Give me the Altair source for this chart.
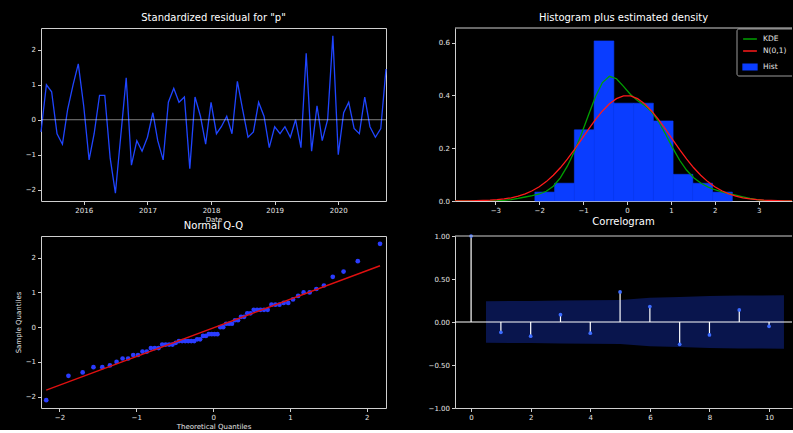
import statistics

import altair as alt
import numpy as np
import pandas as pd

# ---- data -------------------------------------------------------------
resid_start = "2015-05-01"  # first month of the monthly residual series
resid_values = [
    -0.35, 1.0, 0.8, -0.4, -0.7, 0.3, 1.0, 1.6, 0.4, -1.15,
    -0.4, 0.7, 0.7, -1.1, -2.1, -0.45, 1.2, -1.3, -0.6, -0.9,
    -0.5, 0.2, -0.6, -1.15, 0.5, 0.9, 0.5, 0.65, -1.4, 0.65,
    0.1, -0.7, 0.5, -0.4, -0.2, 0.1, -0.4, 1.1, 0.3, -0.5,
    -0.35, 0.5, 0.1, -0.8, -0.2, -0.4, -0.2, -0.5, 0.0, -0.8,
    1.9, -0.9, 0.4, -0.6, 0.0, 2.4, -1.0, 0.2, 0.5, -0.25,
    -0.4, 0.65, -0.2, -0.5, -0.25, 1.45,
]

acf_lags = list(range(11))
acf_values = [1.0, -0.12, -0.165, 0.085, -0.13, 0.35, 0.18, -0.26, -0.15, 0.14, -0.05]

curve_names = ["KDE", "N(0,1)"]
curve_colors = ["#00a000", "#ff1a1a"]
hist_name = "Hist"
hist_color = "#0a3dff"

resid_ticks = [-2, -1, 0, 1, 2]
hist_xticks = [-3, -2, -1, 0, 1, 2, 3]
hist_yticks = [0.0, 0.1, 0.2, 0.3, 0.4, 0.5, 0.6]
acf_xticks = [0, 2, 4, 6, 8, 10]
acf_yticks = [-1.0, -0.75, -0.5, -0.25, 0.0, 0.25, 0.5, 0.75, 1.0]

# ---- styling ----------------------------------------------------------
FONT = "DejaVu Sans"
FG = "#e4e4e4"
FRAME = "#cfcfcf"
BLUE = "#1f45ff"
W_L, W_R, H_T, H_B = 345, 337, 173, 172
MINUS = "replace(datum.label, '-', '\u2212')"


def ax(values, fmt, **kw):
    return alt.Axis(values=values, format=fmt, labelExpr=MINUS, grid=False, **kw)


def framed_ax(values, fmt, **kw):
    return ax(values, fmt, domain=True, domainColor=FRAME, domainWidth=1, **kw)


def legend_box(y, symbol):
    return alt.Legend(
        orient="none", legendX=287, legendY=y, direction="vertical", padding=0,
        labelFont=FONT, labelFontSize=7.5, labelColor=FG, labelOffset=5,
        symbolSize=190, symbolStrokeWidth=1.5, rowPadding=0, symbolType=symbol,
    )


resid = np.array(resid_values, dtype=float)
n = len(resid)
dates = pd.date_range(resid_start, periods=n, freq="MS")
span = resid.max() - resid.min()
y_lim = [resid.min() - 0.05 * span, resid.max() + 0.05 * span]

# ---- standardized residuals over time -------------------------------
resid_df = pd.DataFrame({"date": dates, "resid": resid})
x_dom = [alt.DateTime(year=int(d.year), month=int(d.month), date=int(d.day)) for d in (dates[0], dates[-1])]
resid_line = alt.Chart(resid_df).mark_line(color=BLUE, strokeWidth=1.3).encode(
    x=alt.X(
        "date:T", title="Date",
        scale=alt.Scale(domain=x_dom, nice=False),
        axis=alt.Axis(format="%Y", tickCount=alt.TimeIntervalStep(interval="year", step=1),
                      grid=False, titlePadding=2),
    ),
    y=alt.Y("resid:Q", title=None, scale=alt.Scale(domain=y_lim, nice=False, zero=False),
            axis=ax(resid_ticks, "d")),
)
resid_zero = alt.Chart(pd.DataFrame({"v": [0]})).mark_rule(color="white", opacity=0.5).encode(
    y=alt.datum(0.0)
)
panel_resid = alt.layer(resid_line, resid_zero).properties(
    width=W_L, height=H_T, title='Standardized residual for "p"'
)

# ---- histogram with KDE and N(0,1) -----------------------------------
counts, edges = np.histogram(resid, bins=10, density=True)
hist_df = pd.DataFrame({"left": edges[:-1], "right": edges[1:], "density": counts, "series": hist_name})
grid_x = np.linspace(-3.92, 3.92, 50)
bw = resid.std(ddof=1) * n ** (-1 / 5)
kde_y = np.exp(-0.5 * ((grid_x[:, None] - resid[None, :]) / bw) ** 2).sum(axis=1) / (n * bw * np.sqrt(2 * np.pi))
norm_y = np.exp(-0.5 * grid_x ** 2) / np.sqrt(2 * np.pi)
curves_df = pd.concat([
    pd.DataFrame({"x": grid_x, "y": kde_y, "series": curve_names[0]}),
    pd.DataFrame({"x": grid_x, "y": norm_y, "series": curve_names[1]}),
])

hist_x = alt.Scale(domain=[-3.92, 3.76], nice=False, zero=False)
hist_y = alt.Scale(domain=[0, 0.655], nice=False)

hist_bars = alt.Chart(hist_df).mark_rect(stroke=hist_color, strokeWidth=0.6).encode(
    x=alt.X("left:Q", title=None, scale=hist_x, axis=framed_ax(hist_xticks, "d")),
    x2="right:Q",
    y=alt.Y("density:Q", title=None, scale=hist_y, axis=framed_ax(hist_yticks, ".1f")),
    y2=alt.datum(0),
    fill=alt.Fill("series:N", title=None,
                  scale=alt.Scale(domain=[hist_name], range=[hist_color]),
                  legend=legend_box(31, "M-1,-0.4H1V0.4H-1Z")),
)
hist_curves = alt.Chart(curves_df).mark_line(strokeWidth=1.3, clip=True).encode(
    x=alt.X("x:Q", scale=hist_x),
    y=alt.Y("y:Q", scale=hist_y),
    stroke=alt.Stroke("series:N", title=None,
                      scale=alt.Scale(domain=curve_names, range=curve_colors),
                      legend=legend_box(3, "stroke")),
)
# legend frame and top edge of the panel
legend_frame = alt.Chart(pd.DataFrame({"v": [0]})).mark_rect(
    fill="black", stroke="#9a9a9a", strokeWidth=1, cornerRadius=2, clip=True
).encode(x=alt.value(282), x2=alt.value(W_R + 4), y=alt.value(1), y2=alt.value(48))
top_edge_h = alt.Chart(pd.DataFrame({"v": [0]})).mark_rule(color=FRAME, strokeWidth=1).encode(
    x=alt.value(0), x2=alt.value(W_R), y=alt.value(0)
)
panel_hist = alt.layer(hist_bars, hist_curves, legend_frame, top_edge_h).resolve_scale(
    fill="independent", stroke="independent"
).properties(
    width=W_R, height=H_T, title="Histogram plus estimated density",
    view=alt.ViewBackground(strokeOpacity=0),
)

# ---- normal Q-Q -------------------------------------------------------
nd = statistics.NormalDist()
theo = np.array([nd.inv_cdf(i / (n + 1)) for i in range(1, n + 1)])
sample = np.sort(resid)
qq_df = pd.DataFrame({"theo": theo, "sample": sample})
line_x = np.array([theo[0], theo[-1]])
qq_line_df = pd.DataFrame({"theo": line_x, "fit": resid.mean() + resid.std() * line_x})
qq_x = alt.Scale(domain=[-2.24, 2.25], nice=False, zero=False)
qq_y = alt.Scale(domain=y_lim, nice=False, zero=False)
qq_points = alt.Chart(qq_df).mark_circle(size=22, color="#2a3cff", opacity=1).encode(
    x=alt.X("theo:Q", title="Theoretical Quantiles", scale=qq_x, axis=ax(resid_ticks, "d", titlePadding=2)),
    y=alt.Y("sample:Q", title="Sample Quantiles", scale=qq_y, axis=ax(resid_ticks, "d", titlePadding=4)),
)
qq_line = alt.Chart(qq_line_df).mark_line(color="#e01010", strokeWidth=1.4).encode(
    x=alt.X("theo:Q", scale=qq_x), y=alt.Y("fit:Q", scale=qq_y)
)
panel_qq = alt.layer(qq_points, qq_line).properties(width=W_L, height=H_B, title="Normal Q-Q")

# ---- correlogram ------------------------------------------------------
acf = np.array(acf_values)
se = np.sqrt((1 + 2 * np.concatenate([[0.0], np.cumsum(acf[1:-1] ** 2)])) / n)
band_x = np.array(acf_lags[1:], dtype=float)
band_x[0] -= 0.5
band_x[-1] += 0.5
band_df = pd.DataFrame({"lag": band_x, "lo": -1.96 * se, "hi": 1.96 * se})
acf_df = pd.DataFrame({"lag": acf_lags, "acf": acf})
acf_x = alt.Scale(domain=[-0.54, 10.77], nice=False, zero=False)
acf_y = alt.Scale(domain=[-1, 1], nice=False)
acf_band = alt.Chart(band_df).mark_area(color=BLUE, opacity=0.3).encode(
    x=alt.X("lag:Q", title=None, scale=acf_x, axis=framed_ax(acf_xticks, "d")),
    y=alt.Y("lo:Q", title=None, scale=acf_y, axis=framed_ax(acf_yticks, ".2f")),
    y2="hi:Q",
)
acf_zero = alt.Chart(pd.DataFrame({"v": [0]})).mark_rule(color="white", strokeWidth=1).encode(
    y=alt.datum(0.0)
)
acf_stems = alt.Chart(acf_df).mark_rule(color="white", strokeWidth=1.2).encode(
    x=alt.X("lag:Q", scale=acf_x), y=alt.Y("acf:Q", scale=acf_y), y2=alt.datum(0)
)
acf_dots = alt.Chart(acf_df).mark_circle(size=14, color="#3b6bff", opacity=1).encode(
    x=alt.X("lag:Q", scale=acf_x), y=alt.Y("acf:Q", scale=acf_y)
)
top_edge_c = alt.Chart(pd.DataFrame({"v": [0]})).mark_rule(color=FRAME, strokeWidth=1).encode(
    x=alt.value(0), x2=alt.value(W_R), y=alt.value(0)
)
panel_acf = alt.layer(acf_band, acf_zero, acf_stems, acf_dots, top_edge_c).properties(
    width=W_R, height=H_B, title="Correlogram", view=alt.ViewBackground(strokeOpacity=0)
)

# ---- assemble the 2x2 grid -------------------------------------------
chart = (
    alt.concat(panel_resid, panel_hist, panel_qq, panel_acf, columns=2,
               spacing={"row": 35, "column": 69}, bounds="flush")
    .properties(background="black", padding={"left": 13, "top": 12, "right": 0, "bottom": 0})
    .configure_view(stroke=FRAME, strokeWidth=1)
    .configure_axis(
        labelFont=FONT, labelFontSize=7, labelColor=FG, labelPadding=2, labelFlush=False,
        tickColor=FRAME, tickSize=3.5, tickWidth=1, domain=False, grid=False,
        titleFont=FONT, titleFontSize=7, titleColor=FG, titleFontWeight="normal",
    )
    .configure_title(font=FONT, fontSize=10, color="white", fontWeight="normal", offset=5)
)

chart.save("out.html", embed_options={"renderer": "svg", "actions": False})
